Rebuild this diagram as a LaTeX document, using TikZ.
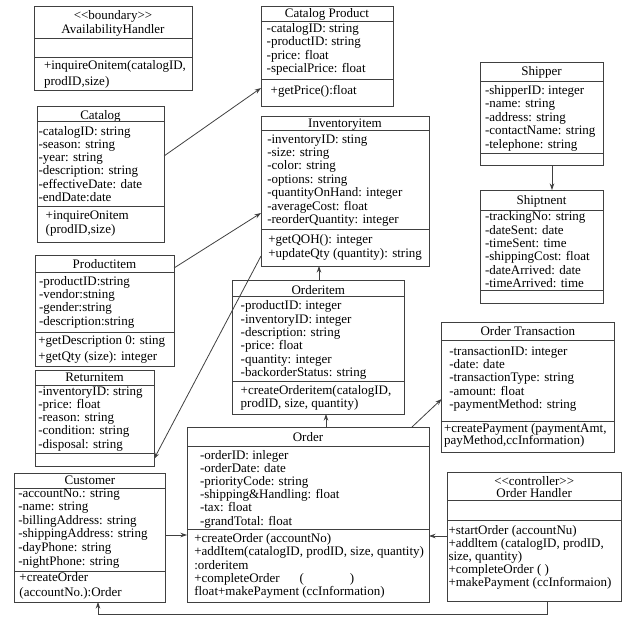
\documentclass[tikz,border=0pt]{standalone}
\usepackage{fontspec}
\setmainfont{Liberation Serif}
\usetikzlibrary{arrows.meta}
\definecolor{lc}{gray}{0.25}
\tikzset{
  box/.style={draw=lc, line width=0.8pt, inner sep=0pt, outer sep=0pt, anchor=north west},
  txt/.style={inner sep=0pt, outer sep=0pt, anchor=north west, align=left, font=\fontsize{13}{#1}\selectfont},
  txt/.default=13.35,
  ctr/.style={inner sep=0pt, outer sep=0pt, anchor=north, align=center, font=\fontsize{13}{#1}\selectfont},
  ctr/.default=13.35,
  ttl/.style={inner sep=0pt, outer sep=0pt, anchor=base, font=\fontsize{13}{13.35}\selectfont},
  arr/.style={draw=lc, line width=0.8pt, -{Stealth[length=6.5pt,width=4.5pt]}},
  divline/.style={draw=lc, line width=0.8pt}
}
\newcommand\umlbox[5]{\node[box, minimum width={(#4-#2)*1pt}, minimum height={(#5-#3)*1pt}] (#1) at (#2,#3) {};}
\newcommand\hdiv[2]{\draw[divline] (#1.west |- 0,#2) -- (#1.east |- 0,#2);}
\newcommand\ctext[5][13.35]{\node[txt=#1] (#2) at (#3,#4-6) {\rule{0pt}{10pt}#5};}
\newcommand\ttext[4]{\node[ttl] (#1) at (#2,#3+4) {#4};}
\begin{document}
\begin{tikzpicture}[x=1pt,y=-1pt]
\useasboundingbox (0,0) rectangle (638,625);

% AvailabilityHandler
\umlbox{ah}{34}{6}{192}{90}
\node[ctr=14] (ahT) at (113,9) {\rule{0pt}{10pt}<\kern0pt<boundary>\kern0pt>\\AvailabilityHandler};
\hdiv{ah}{38}\hdiv{ah}{57}
\ctext[16]{ahM}{44}{65}{+inquireOnitem(catalogID,\\prodID,size)}

% Catalog Product
\umlbox{cp}{261}{6}{393}{106}
\ttext{cpT}{327}{13.3}{Catalog Product}
\hdiv{cp}{21.7}\hdiv{cp}{79.3}
\ctext[13.5]{cpA}{266.7}{28.3}{-catalogID: string\\-productID: string\\-price: float\\-specialPrice: float}
\ctext{cpM}{270.7}{90}{+getPrice():float}

% Catalog
\umlbox{cat}{37}{106}{164}{242}
\ttext{catT}{100.5}{115}{Catalog}
\hdiv{cat}{121}\hdiv{cat}{206}
\ctext[13.3]{catA}{38.5}{131}{-catalogID: string\\-season: string\\-year: string\\-description: string\\-effectiveDate: date\\-endDate:date}
\ctext[14]{catM}{45.7}{215}{+inquireOnitem\\(prodID,size)}

% Inventoryitem
\umlbox{inv}{261}{116}{429}{266}
\ttext{invT}{345}{123.3}{Inventoryitem}
\hdiv{inv}{130.7}\hdiv{inv}{229}
\ctext[13.4]{invA}{267.3}{139}{-inventoryID: sting\\-size: string\\-color: string\\-options: string\\-quantityOnHand: integer\\-averageCost: float\\-reorderQuantity: integer}
\ctext[14]{invM}{268.3}{239.3}{+getQOH(): integer\\+updateQty (quantity): string}

% Shipper
\umlbox{shp}{480}{62}{603}{165}
\ttext{shpT}{541.5}{71.7}{Shipper}
\hdiv{shp}{81.7}\hdiv{shp}{153.5}
\ctext[13.5]{shpA}{485}{90}{-shipperID: integer\\-name: string\\-address: string\\-contactName: string\\-telephone: string}

% Shiptnent
\umlbox{shm}{480}{190}{603}{303}
\ttext{shmT}{541.5}{200}{Shiptnent}
\hdiv{shm}{210.7}\hdiv{shm}{290}
\ctext[13.33]{shmA}{485}{216.7}{-trackingNo: string\\-dateSent: date\\-timeSent: time\\-shippingCost: float\\-dateArrived: date\\-timeArrived: time}

% Productitem
\umlbox{pi}{35}{255}{174}{366.5}
\ttext{piT}{104.5}{264}{Productitem}
\hdiv{pi}{272.3}\hdiv{pi}{332.3}
\ctext[13.1]{piA}{39}{281.7}{-productID:string\\-vendor:stning\\-gender:string\\-description:string}
\ctext[15.3]{piM}{38.3}{340.7}{+getDescription 0: sting\\+getQty (size): integer}

% Returnitem
\umlbox{ri}{35}{370}{154}{466}
\ttext{riT}{94.5}{377.3}{Returnitem}
\hdiv{ri}{385.7}\hdiv{ri}{453.3}
\ctext[13.33]{riA}{38.3}{391}{-inventoryID: string\\-price: float\\-reason: string\\-condition: string\\-disposal: string}

% Orderitem
\umlbox{oi}{232.3}{280.7}{404.3}{414}
\ttext{oiT}{318.3}{290}{Orderitem}
\hdiv{oi}{296.7}\hdiv{oi}{381}
\ctext[13.33]{oiA}{240.7}{305.7}{-productID: integer\\-inventoryID: integer\\-description: string\\-price: float\\-quantity: integer\\-backorderStatus: string}
\ctext[13.33]{oiM}{240.7}{390}{+createOrderitem(catalogID,\\prodID, size, quantity)}

% Order Transaction
\umlbox{ot}{441.7}{322.7}{614}{452}
\ttext{otT}{527.8}{331}{Order Transaction}
\hdiv{ot}{340}\hdiv{ot}{421.5}
\ctext[13.1]{otA}{449.3}{351.7}{-transactionID: integer\\-date: date\\-transactionType: string\\-amount: float\\-paymentMethod: string}
\ctext[12.5]{otM}{444}{428.3}{+createPayment (paymentAmt,\\payMethod,ccInformation)}

% Order
\umlbox{ord}{187}{427}{429}{602}
\ttext{ordT}{308}{437.3}{Order}
\hdiv{ord}{446}\hdiv{ord}{529.3}
\ctext[13.2]{ordA}{200}{455}{-orderID: inleger\\-orderDate: date\\-priorityCode: string\\-shipping\&Handling: float\\-tax: float\\-grandTotal: float}
\ctext[13.35]{ordM}{194.3}{538.3}{+createOrder (accountNo)\\+addItem(catalogID, prodID, size, quantity)\\:orderitem\\+completeOrder\hspace{20pt}(\hspace{46pt})\\float+makePayment (ccInformation)}

% Customer
\umlbox{cus}{14}{473.3}{165.7}{602}
\ttext{cusT}{90}{480.7}{Customer}
\hdiv{cus}{488.3}\hdiv{cus}{571}
\ctext[13.6]{cusA}{18.3}{493}{-accountNo.: string\\-name: string\\-billingAddress: string\\-shippingAddress: string\\-dayPhone: string\\-nightPhone: string}
\ctext[15]{cusM}{19.5}{577}{+createOrder\\(accountNo.):Order}

% Order Handler
\umlbox{oh}{447.3}{472.3}{621}{601.5}
\node[ctr=12.3] (ohT) at (534.2,475) {\rule{0pt}{10pt}<\kern0pt<controller>\kern0pt>\\Order Handler};
\hdiv{oh}{500}\hdiv{oh}{520}
\ctext[13.2]{ohM}{448.5}{530}{+startOrder (accountNu)\\+addltem (catalogID, prodID,\\size, quantity)\\+completeOrder ( )\\+makePayment (ccInformaion)}

% connectors
\draw[arr] (cat.east |- 0,156) -- (cp.west |- 0,88);
\draw[arr] (pi.east |- 0,268) -- (inv.west |- 0,213);
\draw[arr] (inv.west |- 0,256) -- (ri.east |- 0,459);
\draw[arr] (shp.south -| 552,0) -- (shm.north -| 552,0);
\draw[arr] (oi.north -| 319,0) -- (inv.south -| 319,0);
\draw[arr] (ord.north -| 326,0) -- (oi.south -| 326,0);
\draw[arr] (ord.north -| 412,0) -- (ot.west |- 0,399);
\draw[arr] (cus.east |- 0,535) -- (ord.west |- 0,535);
\draw[arr] (oh.west |- 0,536) -- (ord.east |- 0,536);
\draw[arr] (oh.south -| 547,0) -- ++(0,13) -| (cus.south -| 98,0);
\end{tikzpicture}
\end{document}
